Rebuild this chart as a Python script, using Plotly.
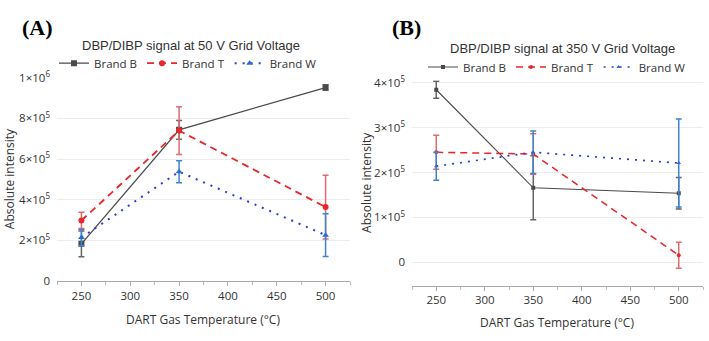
import plotly.graph_objects as go

temps = [250, 350, 500]

# Panel A: 50 V grid voltage
a_brand_b = [1.83e5, 7.44e5, 9.52e5]
a_brand_b_err = [0.63e5, 0.46e5, 0.13e5]
a_brand_t = [2.98e5, 7.40e5, 3.64e5]
a_brand_t_err = [0.40e5, 1.17e5, 1.57e5]
a_brand_w = [2.14e5, 5.38e5, 2.26e5]
a_brand_w_err = [0.40e5, 0.54e5, 1.05e5]

# Panel B: 350 V grid voltage
b_brand_b = [3.84e5, 1.66e5, 1.54e5]
b_brand_b_err = [0.19e5, 0.71e5, 0.35e5]
b_brand_t = [2.45e5, 2.41e5, 0.16e5]
b_brand_t_err = [0.38e5, 0.45e5, 0.29e5]
b_brand_w = [2.14e5, 2.45e5, 2.21e5]
b_brand_w_err = [0.31e5, 0.47e5, 0.98e5]

series_names = ["Brand B", "Brand T", "Brand W"]
a_ticks = [0, 2e5, 4e5, 6e5, 8e5, 1e6]
a_ticktext = ["0", "2×10<sup>5</sup>", "4×10<sup>5</sup>", "6×10<sup>5</sup>", "8×10<sup>5</sup>", "1×10<sup>6</sup>"]
b_ticks = [0, 1e5, 2e5, 3e5, 4e5]
b_ticktext = ["0", "1×10<sup>5</sup>", "2×10<sup>5</sup>", "3×10<sup>5</sup>", "4×10<sup>5</sup>"]

W, H = 709, 341
def px_x(p): return p / W
def px_y(p): return (H - p) / H

styles = [
    dict(line=dict(color="#4a4a4a", width=1.3, dash="solid"), marker=dict(symbol="square", color="#4a4a4a"), err="#666666"),
    dict(line=dict(color="#e8262b", width=1.8, dash="7px,5px"), marker=dict(symbol="circle", color="#e8262b"), err="#e06b6e"),
    dict(line=dict(color="#2b3bd6", width=2.0, dash="2px,6px"), marker=dict(symbol="triangle-up", color="#2b6bd6"), err="#3d85d0"),
]

fig = go.Figure()

panel_a = [(a_brand_b, a_brand_b_err), (a_brand_t, a_brand_t_err), (a_brand_w, a_brand_w_err)]
panel_b = [(b_brand_b, b_brand_b_err), (b_brand_t, b_brand_t_err), (b_brand_w, b_brand_w_err)]

for i, (vals, errs) in enumerate(panel_a):
    s = styles[i]
    fig.add_trace(go.Scatter(
        x=temps, y=vals, name=series_names[i], mode="lines+markers",
        line=s["line"], marker=dict(s["marker"], size=6),
        error_y=dict(type="data", array=errs, color=s["err"], thickness=1.5, width=3),
        xaxis="x", yaxis="y", legend="legend"))

for i, (vals, errs) in enumerate(panel_b):
    s = styles[i]
    ln = dict(s["line"]); ln["width"] = ln["width"] * 0.85
    fig.add_trace(go.Scatter(
        x=temps, y=vals, name=series_names[i], mode="lines+markers",
        line=ln, marker=dict(s["marker"], size=4),
        error_y=dict(type="data", array=errs, color=s["err"], thickness=1.5, width=3),
        xaxis="x2", yaxis="y2", legend="legend2"))

tick_font = dict(family="Open Sans, Noto Sans, sans-serif", size=11.5, color="#333333")
xcommon = dict(range=[225, 525], tickvals=[250, 300, 350, 400, 450, 500], ticks="outside",
               ticklen=4, tickcolor="#aaaaaa", showline=True, linecolor="#aaaaaa", linewidth=1,
               showgrid=False, zeroline=False, tickfont=tick_font,
               minor=dict(tickvals=[225, 275, 325, 375, 425, 475, 525], ticks="outside", ticklen=3, tickcolor="#bbbbbb"))
ycommon = dict(showgrid=True, gridcolor="#ececec", gridwidth=1, zeroline=False, showline=False,
               ticks="", tickfont=tick_font, ticklabelstandoff=6)

leg_font = dict(family="Open Sans, Noto Sans, sans-serif", size=11.5, color="#333333")
fig.update_layout(
    width=W, height=H, margin=dict(l=0, r=0, t=0, b=0),
    paper_bgcolor="white", plot_bgcolor="white",
    xaxis=dict(xcommon, domain=[px_x(57), px_x(350)], anchor="y"),
    yaxis=dict(ycommon, domain=[px_y(285.3), px_y(71.3)], range=[0, 1.0e6],
               tickvals=a_ticks, ticktext=a_ticktext, anchor="x"),
    xaxis2=dict(xcommon, domain=[px_x(412), px_x(703)], anchor="y2"),
    yaxis2=dict(ycommon, domain=[px_y(290), px_y(74)], range=[-0.514e5, 4.05e5],
                tickvals=b_ticks, ticktext=b_ticktext, anchor="x2"),
    legend=dict(orientation="h", x=px_x(188), y=px_y(56), xanchor="center", yanchor="middle",
                font=leg_font, itemwidth=30, tracegroupgap=0, bgcolor="rgba(0,0,0,0)"),
    legend2=dict(orientation="h", x=px_x(557), y=px_y(60), xanchor="center", yanchor="middle",
                 font=leg_font, itemwidth=30, tracegroupgap=0, bgcolor="rgba(0,0,0,0)"),
    showlegend=True,
)

ann_font = dict(family="Liberation Sans, Arial, sans-serif", size=13, color="#333333")
axis_title_font = dict(family="Open Sans, Noto Sans, sans-serif", size=12, color="#333333")
anns = [
    dict(text="<b>(A)</b>", x=px_x(37), y=px_y(18), font=dict(family="Liberation Serif, Times New Roman, serif", size=22, color="black")),
    dict(text="<b>(B)</b>", x=px_x(406), y=px_y(18), font=dict(family="Liberation Serif, Times New Roman, serif", size=22, color="black")),
    dict(text="DBP/DIBP signal at 50 V Grid Voltage", x=px_x(191), y=px_y(37), font=ann_font),
    dict(text="DBP/DIBP signal at 350 V Grid Voltage", x=px_x(562), y=px_y(40), font=ann_font),
    dict(text="DART Gas Temperature (°C)", x=px_x(203), y=px_y(326), font=axis_title_font),
    dict(text="DART Gas Temperature (°C)", x=px_x(557), y=px_y(329), font=axis_title_font),
    dict(text="Absolute intensity", x=px_x(9), y=px_y(178), textangle=-90, font=axis_title_font),
    dict(text="Absolute intensity", x=px_x(367), y=px_y(182), textangle=-90, font=axis_title_font),
]
for a in anns:
    fig.add_annotation(xref="paper", yref="paper", showarrow=False, xanchor="center", yanchor="middle", **a)

fig.write_html("out.html")
